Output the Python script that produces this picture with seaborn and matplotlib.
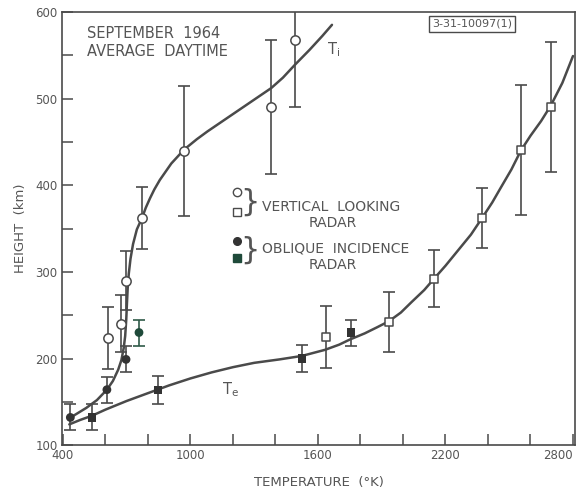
import matplotlib
matplotlib.use("Agg")
import matplotlib.pyplot as plt
import numpy as np
import pandas as pd
import seaborn as sns

## Data

# vertical looking radar, ion temperature (open circles)
vi_temp = [612, 673, 696, 772, 970, 1380, 1490]
vi_height = [224, 240, 290, 362, 440, 490, 567]
vi_err = [36, 33, 34, 36, 75, 77, 77]

# vertical looking radar, electron temperature (open squares)
ve_temp = [1638, 1934, 2146, 2372, 2555, 2696]
ve_height = [225, 242, 292, 362, 441, 490]
ve_err = [36, 35, 33, 35, 75, 75]

# oblique incidence radar (filled circles)
oc_temp = [435, 607, 697, 758]
oc_height = [132, 164, 199, 230]
oc_err = [15, 15, 15, 15]

# oblique incidence radar (filled squares)
os_temp = [537, 847, 1525, 1755]
os_height = [132, 164, 200, 230]
os_err = [15, 16, 16, 15]

# hand drawn curves
ti_temp = [430, 470, 510, 560, 607, 635, 660, 675, 686, 693, 698, 701, 705, 710,
           718, 730, 748, 772, 790, 810, 830, 856, 910, 970, 1030, 1080, 1140,
           1200, 1260, 1320, 1380, 1435, 1492, 1560, 1620, 1666]
ti_height = [131, 137, 143, 152, 164, 174, 187, 198, 212, 226, 245, 262, 282, 298,
             315, 332, 349, 362, 374, 385, 395, 406, 425, 441, 453, 462, 472,
             482, 492, 502, 512, 524, 539, 556, 572, 585]

te_temp = [430, 480, 537, 600, 700, 800, 900, 1000, 1100, 1200, 1300, 1420, 1525,
           1633, 1700, 1751, 1820, 1878, 1934, 1990, 2040, 2100, 2146, 2200, 2260,
           2320, 2372, 2420, 2460, 2510, 2555, 2600, 2650, 2696, 2750, 2800]
te_height = [124, 129, 134, 141, 151, 160, 169, 177, 184, 190, 195, 199, 203,
             210, 216, 222, 229, 236, 243, 253, 265, 279, 292, 307, 325,
             343, 362, 380, 397, 418, 440, 457, 474, 492, 518, 549]

sns.set_style("ticks")
plt.rcParams['font.family'] = ['DejaVu Sans']
ink = '#4a4a4a'
txt = '#555555'

fig = plt.figure(figsize=(5.78, 4.93), dpi=100)
ax = fig.add_axes([0.107, 0.097, 0.888, 0.879])

curves = pd.concat([
    pd.DataFrame({'T': ti_temp, 'h': ti_height, 'c': 'Ti'}),
    pd.DataFrame({'T': te_temp, 'h': te_height, 'c': 'Te'}),
])
sns.lineplot(data=curves, x='T', y='h', units='c', estimator=None, sort=False,
             color=ink, lw=1.8, ax=ax)

ebkw = dict(fmt='none', ecolor=ink, elinewidth=1.2, capsize=4, capthick=1.2, zorder=3)
ax.errorbar(vi_temp, vi_height, yerr=vi_err, **ebkw)
ax.errorbar(ve_temp, ve_height, yerr=ve_err, **ebkw)
ax.errorbar(oc_temp[:3], oc_height[:3], yerr=oc_err[:3], **ebkw)
ax.errorbar(oc_temp[3:], oc_height[3:], yerr=oc_err[3:], fmt='none', ecolor='#2f5a48',
            elinewidth=1.2, capsize=4, capthick=1.2, zorder=3)
ax.errorbar(os_temp, os_height, yerr=os_err, **ebkw)

sns.scatterplot(x=vi_temp, y=vi_height, marker='o', s=45, facecolor='white',
                edgecolor=ink, linewidth=1.1, zorder=4, ax=ax)
sns.scatterplot(x=ve_temp, y=ve_height, marker='s', s=40, facecolor='white',
                edgecolor=ink, linewidth=1.1, zorder=4, ax=ax)
sns.scatterplot(x=oc_temp, y=oc_height, marker='o', s=40,
                color=['#333333', '#333333', '#333333', '#1f4a3a'],
                edgecolor='none', zorder=4, ax=ax)
sns.scatterplot(x=os_temp, y=os_height, marker='s', s=36, color='#333333',
                edgecolor='none', zorder=4, ax=ax)

ax.set_xlim(395, 2810)
ax.set_ylim(100, 600)
ax.set_xticks([400, 1000, 1600, 2200, 2800])
ax.set_xticks(np.arange(400, 2801, 200), minor=True)
ax.set_yticks(np.arange(100, 601, 100))
ax.set_yticks(np.arange(100, 601, 50), minor=True)
ax.tick_params(which='both', direction='in', length=8, width=1.1, color=ink,
               labelsize=8.5, labelcolor=txt, pad=3)
ax.get_xticklabels()[-1].set_horizontalalignment('right')
for s in ax.spines.values():
    s.set_color(ink)
    s.set_linewidth(1.2)

ax.set_xlabel('TEMPERATURE  (°K)', fontsize=9.5, color=txt, labelpad=10)
ax.set_ylabel('HEIGHT  (km)', fontsize=9.5, color=txt, labelpad=6)

tkw = dict(transform=ax.transAxes, color=txt)
ax.text(0.049, 0.951, 'SEPTEMBER  1964', fontsize=10.5, va='center', **tkw)
ax.text(0.049, 0.908, 'AVERAGE  DAYTIME', fontsize=10.5, va='center', **tkw)
ax.text(0.517, 0.912, 'T$_\\mathregular{i}$', fontsize=10.5, va='center', **tkw)
ax.text(0.312, 0.127, 'T$_\\mathregular{e}$', fontsize=10.5, va='center', **tkw)
ax.text(0.799, 0.972, '3-31-10097(1)', fontsize=8, ha='center', va='center',
        bbox=dict(boxstyle='square,pad=0.25', fc='white', ec=ink, lw=1), **tkw)

# legend drawn by hand
ax.plot([0.341], [0.584], 'o', ms=6, mfc='white', mec=ink, mew=1, transform=ax.transAxes)
ax.plot([0.341], [0.538], 's', ms=6, mfc='white', mec=ink, mew=1, transform=ax.transAxes)
ax.plot([0.341], [0.471], 'o', ms=5.5, color='#333333', transform=ax.transAxes)
ax.plot([0.341], [0.432], 's', ms=5.5, color='#1f4a3a', transform=ax.transAxes)
ax.text(0.366, 0.561, '}', fontsize=22, ha='center', va='center', **tkw)
ax.text(0.366, 0.451, '}', fontsize=22, ha='center', va='center', **tkw)
ax.text(0.39, 0.550, 'VERTICAL  LOOKING', fontsize=10, va='center', **tkw)
ax.text(0.528, 0.513, 'RADAR', fontsize=10, ha='center', va='center', **tkw)
ax.text(0.39, 0.455, 'OBLIQUE  INCIDENCE', fontsize=10, va='center', **tkw)
ax.text(0.528, 0.416, 'RADAR', fontsize=10, ha='center', va='center', **tkw)

fig.savefig('out.png', dpi=100)
